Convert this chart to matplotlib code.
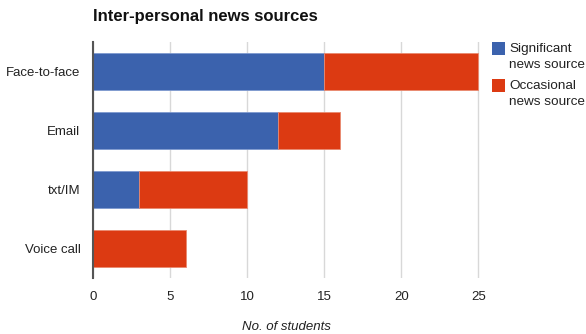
import matplotlib.pyplot as plt
from matplotlib.patches import Rectangle

categories = ["Face-to-face", "Email", "txt/IM", "Voice call"]
significant = [15, 12, 3, 0]
occasional = [10, 4, 7, 6]
xticks = [0, 5, 10, 15, 20, 25]
series_names = ["Significant\nnews source", "Occasional\nnews source"]

blue = "#3b62ad"
red = "#dc3a12"

plt.rcParams["font.family"] = ["Liberation Sans", "DejaVu Sans"]

W, H = 586, 334
fig = plt.figure(figsize=(W / 100, H / 100), dpi=100)
ax = fig.add_axes([93 / W, 1 - 278 / H, (480 - 93) / W, 236 / H])

y = list(range(len(categories)))
ax.barh(y, significant, height=0.62, color=blue, edgecolor="#7f9ad0", linewidth=0.6, zorder=3)
ax.barh(y, occasional, left=significant, height=0.62, color=red, edgecolor="#e98a70",
        linewidth=0.6, zorder=3)

ax.set_ylim(3.5, -0.5)
ax.set_xlim(0, 25.1)
ax.set_yticks(y)
ax.set_yticklabels(categories, fontsize=9.5, color="#222222")
ax.set_xticks(xticks)
ax.set_xticklabels([str(t) for t in xticks], fontsize=9.5, color="#222222")
ax.tick_params(length=0, pad=9, axis="x")
ax.tick_params(length=0, pad=9, axis="y")

ax.grid(axis="x", color="#d8d8d8", linewidth=1, zorder=0)
for s in ["top", "right", "bottom"]:
    ax.spines[s].set_visible(False)
ax.spines["left"].set_color("#555555")
ax.spines["left"].set_linewidth(1.5)
ax.spines["left"].set_zorder(4)

ax.set_xlabel("No. of students", fontsize=9.5, style="italic", color="#222222", labelpad=13)

fig.text(93 / W, 1 - 16 / H, "Inter-personal news sources", fontsize=12,
         fontweight="bold", color="#111111", va="center")

# legend: square aligned with the first line of each two-line label
for i, (name, col) in enumerate(zip(series_names, [blue, red])):
    top = 42 + i * 37
    fig.add_artist(Rectangle((492 / W, 1 - (top + 13) / H), 13 / W, 13 / H,
                             transform=fig.transFigure, facecolor=col, edgecolor="none"))
    fig.text(509 / W, 1 - (top + 1) / H, name, fontsize=9.7, color="#222222",
             va="top", ha="left", linespacing=1.45)

fig.savefig("out.png", dpi=100)
